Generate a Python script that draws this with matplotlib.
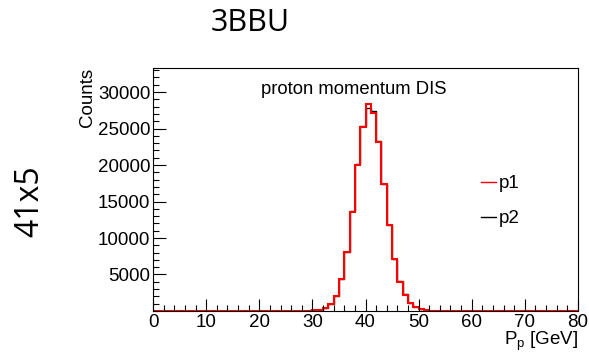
import numpy as np
import matplotlib
matplotlib.use('Agg')
from matplotlib import pyplot as plt
from matplotlib.lines import Line2D
from matplotlib.ticker import MultipleLocator

plt.rcParams['font.family'] = ['Liberation Sans', 'DejaVu Sans']

# proton momentum, 1 GeV bins from 0 to 80
bin_edges = np.arange(0, 81, 1)

# p1 (red)
p1_counts = [0, 0, 0, 0, 0, 0, 0, 0, 0, 0,
             0, 0, 0, 0, 0, 0, 0, 0, 0, 0,
             0, 0, 0, 0, 0, 0, 0, 0, 10, 30,
             70, 200, 450, 960, 2050, 4380, 8100, 13600, 20000, 25250,
             28350, 27100, 23200, 17400, 11800, 7080, 4000, 2190, 1050, 500,
             230, 110, 50, 20, 10, 0, 0, 0, 0, 0,
             0, 0, 0, 0, 0, 0, 0, 0, 0, 0,
             0, 0, 0, 0, 0, 0, 0, 0, 0, 0]

# p2 (black)
p2_counts = [0, 0, 0, 0, 0, 0, 0, 0, 0, 0,
             0, 0, 0, 0, 0, 0, 0, 0, 0, 0,
             0, 0, 0, 0, 0, 0, 0, 0, 10, 30,
             70, 200, 450, 980, 2080, 4400, 8150, 13650, 20150, 25300,
             27750, 27450, 23250, 17450, 11850, 7100, 4050, 2280, 1080, 510,
             240, 110, 50, 20, 10, 0, 0, 0, 0, 0,
             0, 0, 0, 0, 0, 0, 0, 0, 0, 0,
             0, 0, 0, 0, 0, 0, 0, 0, 0, 0]

FS = 13.5

fig = plt.figure(figsize=(5.89, 3.54), dpi=100)
ax = fig.add_axes([0.2598, 0.1215, 0.7215, 0.6865])

ax.stairs(p2_counts, bin_edges, color='black', linewidth=1.0)
ax.stairs(p1_counts, bin_edges, color='red', linewidth=1.5)

ax.set_xlim(0, 80)
ax.set_ylim(0, 33300)

# ROOT-like ticks
ax.xaxis.set_major_locator(MultipleLocator(10))
ax.xaxis.set_minor_locator(MultipleLocator(2))
ax.yaxis.set_major_locator(MultipleLocator(5000))
ax.yaxis.set_minor_locator(MultipleLocator(1000))
ax.tick_params(which='both', direction='in', top=False, right=False, labelsize=FS)
ax.tick_params(which='major', length=9, width=0.8)
ax.tick_params(which='minor', length=4.5, width=0.8)
ax.tick_params(axis='x', pad=2)
ax.tick_params(axis='y', pad=2)
ax.set_yticks([5000, 10000, 15000, 20000, 25000, 30000])
for s in ax.spines.values():
    s.set_linewidth(0.8)

ax.set_ylabel('Counts', loc='top', fontsize=FS)
ax.yaxis.set_label_coords(-0.135, 1.0)
ax.set_xlabel(r'P$_\mathregular{p}$ [GeV]', loc='right', fontsize=FS)
ax.xaxis.set_label_coords(1.0, -0.075)
ax.xaxis.label.set_va('top')

ax.text(0.473, 0.91, 'proton momentum DIS', transform=ax.transAxes,
        ha='center', va='center', fontsize=13.3)

# legend without frame, p1 on top
handles = [Line2D([], [], color='red', linewidth=1.0),
           Line2D([], [], color='black', linewidth=1.0)]
ax.legend(handles, ['p1', 'p2'], loc='center left', bbox_to_anchor=(0.755, 0.452),
          frameon=False, fontsize=FS, handlelength=0.8, handletextpad=0.15,
          labelspacing=0.95, borderaxespad=0)

fig.text(0.4245, 0.935, '3BBU', ha='center', va='center', fontsize=22,
         family='Open Sans')
fig.text(0.051, 0.432, '41x5', ha='center', va='center', fontsize=23,
         rotation=90, family='Open Sans')

fig.savefig('out.png', dpi=100)
